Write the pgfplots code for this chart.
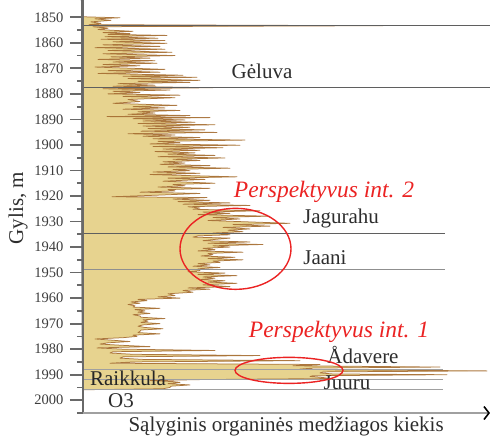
\documentclass[border=0pt]{standalone}
\usepackage{pgfplots}
\pgfplotsset{compat=1.18}
\usepackage{pgfplotstable}
\usetikzlibrary{arrows.meta}
\usepackage{fontspec}
\setmainfont{Liberation Serif}

\definecolor{tanfill}{RGB}{231,211,143}
\definecolor{brownline}{RGB}{160,100,40}
\definecolor{darkline}{RGB}{95,95,95}
\definecolor{lightline}{RGB}{160,160,160}
\definecolor{axgray}{RGB}{105,105,105}
\definecolor{labgray}{RGB}{45,45,45}
\definecolor{perspred}{RGB}{235,35,35}

\newcommand\lab{\fontsize{21}{24}\selectfont}
\newcommand\redlab{\fontsize{23.5}{26}\selectfont\itshape}

% organic matter log: depth d (m), relative amount v
\pgfplotstableread{
d v
1849.8 0
1850.2 37
1850.6 12
1851.2 28
1851.8 8
1852.4 18
1852.9 6
1853.3 300
1853.7 10
1854.3 25
1854.8 15
1855.5 50
1856.0 20
1856.4 47
1856.7 25
1857.1 84
1857.6 22
1858.2 75
1858.6 18
1859.1 82
1859.6 30
1860.2 84
1860.8 20
1861.4 77
1861.9 12
1862.5 82
1863.0 25
1863.7 89
1864.3 20
1865.0 92
1865.5 28
1866.0 67
1866.5 15
1867.0 72
1867.5 30
1868.0 74
1868.5 20
1869.0 57
1869.5 12
1870.4 82
1870.9 25
1871.5 77
1872.0 15
1872.7 100
1873.1 40
1873.5 114
1874.0 45
1874.7 117
1875.1 55
1875.5 107
1876.0 35
1876.6 72
1877.0 30
1877.6 130
1878.0 20
1878.5 87
1879.0 30
1879.5 57
1880.0 25
1880.5 97
1881.0 40
1881.5 92
1882.2 45
1883.0 57
1883.7 30
1884.5 94
1885.0 50
1885.5 82
1886.0 40
1886.5 97
1887.0 55
1887.5 72
1888.0 45
1888.5 107
1888.9 24
1889.3 127
1889.7 50
1890.2 102
1890.6 60
1891.1 112
1891.6 55
1892.1 132
1892.6 60
1893.1 107
1893.6 65
1894.1 122
1894.6 58
1895.1 134
1895.6 45
1896.1 92
1896.6 60
1897.1 117
1897.6 70
1898.1 162
1898.6 75
1899.1 97
1899.6 67
1900.1 157
1900.6 70
1901.1 140
1901.6 80
1902.1 117
1902.6 72
1903.1 112
1903.6 85
1904.1 132
1904.6 75
1905.1 142
1905.6 90
1906.1 117
1906.6 80
1907.1 102
1907.6 77
1908.1 127
1908.6 85
1909.1 147
1909.6 90
1910.1 107
1910.6 70
1911.1 117
1911.6 67
1912.5 154
1913.0 85
1913.5 122
1914.2 80
1915.0 132
1915.5 90
1916.0 102
1916.5 75
1917.0 127
1917.5 85
1918.0 92
1918.5 57
1919.0 117
1919.6 80
1920.3 29
1920.6 124
1921.2 90
1921.7 127
1922.2 95
1922.7 147
1923.2 100
1923.7 167
1924.2 105
1924.7 117
1925.2 110
1925.8 177
1926.3 120
1926.8 147
1927.3 115
1927.9 187
1928.4 130
1929.0 157
1929.6 125
1930.2 170
1930.7 207
1931.2 150
1931.8 187
1932.3 140
1932.9 167
1933.4 145
1934.0 160
1934.5 130
1935.2 147
1935.6 115
1936.1 110
1936.5 147
1937.0 132
1937.5 120
1938.0 167
1938.5 125
1939.0 180
1939.5 130
1940.0 147
1940.5 120
1941.0 132
1941.5 115
1942.0 160
1942.5 125
1943.0 130
1943.5 118
1944.0 152
1944.5 125
1945.0 160
1945.5 130
1946.0 137
1946.5 115
1947.0 127
1947.5 110
1948.0 137
1948.5 115
1949.2 117
1949.7 105
1950.2 142
1950.7 115
1951.2 154
1951.7 120
1952.2 132
1952.7 118
1953.2 142
1953.7 125
1954.2 154
1954.8 120
1955.5 147
1956.0 105
1956.5 127
1957.0 100
1957.7 110
1958.3 85
1959.0 92
1959.5 75
1960.0 97
1960.5 55
1961.0 64
1961.5 48
1962.0 57
1962.5 45
1963.0 52
1963.5 50
1964.0 77
1964.5 52
1965.0 62
1965.5 55
1966.0 67
1966.5 50
1967.0 57
1967.5 58
1968.0 82
1968.5 60
1969.0 65
1969.5 58
1970.0 77
1970.5 60
1971.0 55
1971.5 62
1972.0 80
1972.5 58
1973.0 57
1973.5 55
1974.0 77
1974.5 50
1975.0 54
1975.5 40
1976.0 12
1976.5 30
1977.0 47
1977.5 25
1978.0 17
1978.5 40
1979.0 67
1979.5 14
1980.0 40
1980.5 132
1981.0 30
1981.5 27
1982.0 50
1982.5 177
1983.0 40
1983.5 37
1984.0 60
1984.5 217
1985.0 50
1985.5 27
1986.0 237
1986.5 210
1987.0 357
1987.4 230
1987.8 217
1988.1 250
1988.5 404
1988.9 240
1989.3 237
1989.7 250
1990.0 364
1990.4 230
1990.7 227
1991.1 240
1991.5 247
1991.9 120
1992.3 67
1992.7 90
1993.0 97
1993.5 85
1994.0 107
1994.5 88
1995.0 87
1995.5 80
1995.9 0
}\logdata

\begin{document}
\begin{tikzpicture}
\begin{axis}[
  at={(0,0)}, anchor=south west,
  scale only axis,
  width=407pt, height=397pt,
  xmin=0, xmax=407,
  ymin=1849.5, ymax=2005,
  y dir=reverse,
  clip=false,
  axis x line=none,
  axis y line*=left,
  y axis line style={draw=axgray, line width=1.1pt},
  xtick=\empty,
  ytick={1850,1860,...,2000},
  minor ytick={1855,1865,...,2005},
  tick align=outside,
  major tick length=13pt,
  minor tick length=6pt,
  major tick style={draw=axgray, line width=1.8pt},
  minor tick style={draw=axgray, line width=1.8pt},
  /pgf/number format/assume math mode=true,
  /pgf/number format/1000 sep={},
  yticklabel style={font=\fontsize{14.5}{16}\selectfont, text=labgray!80!gray, xshift=-3pt},
]
% filled log
\addplot[fill=tanfill, draw=none] table[x=v, y=d] {\logdata} -- cycle;
\addplot[draw=brownline, line width=0.75pt, line join=round, opacity=0.85] table[x=v, y=d] {\logdata};

% formation boundaries
\addplot[darkline, line width=1.3pt] coordinates {(0,1853.1) (407,1853.1)};
\addplot[darkline, line width=1.3pt] coordinates {(0,1877.5) (407,1877.5)};
\addplot[darkline, line width=1.1pt] coordinates {(0,1934.7) (362,1934.7)};
\addplot[darkline!70!white, line width=1.0pt] coordinates {(0,1948.7) (362,1948.7)};
\addplot[lightline, line width=1.0pt] coordinates {(0,1987.8) (360,1987.8)};
\addplot[lightline, line width=1.0pt] coordinates {(0,1991.8) (360,1991.8)};
\addplot[lightline, line width=1.0pt] coordinates {(0,1995.8) (360,1995.8)};

% depth axis line and its ticks, drawn over the fill
\draw[axgray, line width=1.1pt] (axis description cs:0,0) -- (axis description cs:0,1);
\pgfplotsinvokeforeach{1850,1860,...,2000}{
  \draw[axgray, line width=1.8pt] (axis cs:0,#1) -- ++(-13pt,0);
}
\pgfplotsinvokeforeach{1855,1865,...,2005}{
  \draw[axgray, line width=1.8pt] (axis cs:0,#1) -- ++(-6pt,0);
}

% amount arrow
\draw[lightline, line width=1.3pt, -{Straight Barb[length=5pt, width=13pt, line width=1.6pt, color=black]}]
  (axis description cs:0,0) -- (axis description cs:1,0);

% formation names
\node[text=labgray, font=\lab] at (axis cs:179,1871.2) {Gėluva};
\node[text=labgray, font=\lab] at (axis cs:258,1928.7) {Jagurahu};
\node[text=labgray, font=\lab] at (axis cs:242,1944.0) {Jaani};
\node[text=labgray, font=\lab] at (axis cs:280,1982.4) {Ådavere};
\node[text=labgray, font=\lab] at (axis cs:264,1993.3) {Juuru};
\node[text=black!85, font=\lab] at (axis cs:45,1991.4) {Raikkula};
\node[text=labgray, font=\lab] at (axis cs:38,2000.0) {O3};

% prospective intervals
\draw[perspred, line width=1.4pt] (axis cs:152.5,1940.7) ellipse [x radius=55.5pt, y radius=40.5pt];
\draw[perspred, line width=1.4pt] (axis cs:206,1988.3) ellipse [x radius=54pt, y radius=13pt];
\node[text=perspred, font=\redlab] at (axis cs:241,1918.5) {Perspektyvus int. 2};
\node[text=perspred, font=\redlab] at (axis cs:256,1973.4) {Perspektyvus int. 1};

% axis titles
\node[rotate=90, text=labgray, font=\lab] at (axis description cs:-0.1597,0.516) {Gylis, m};
\node[text=labgray, font=\lab] at (axis description cs:0.499,-0.0327) {Sąlyginis organinės medžiagos kiekis};
\end{axis}
\pgfresetboundingbox
\path (-83pt,-24pt) rectangle (407pt,413pt);
\end{tikzpicture}
\end{document}
